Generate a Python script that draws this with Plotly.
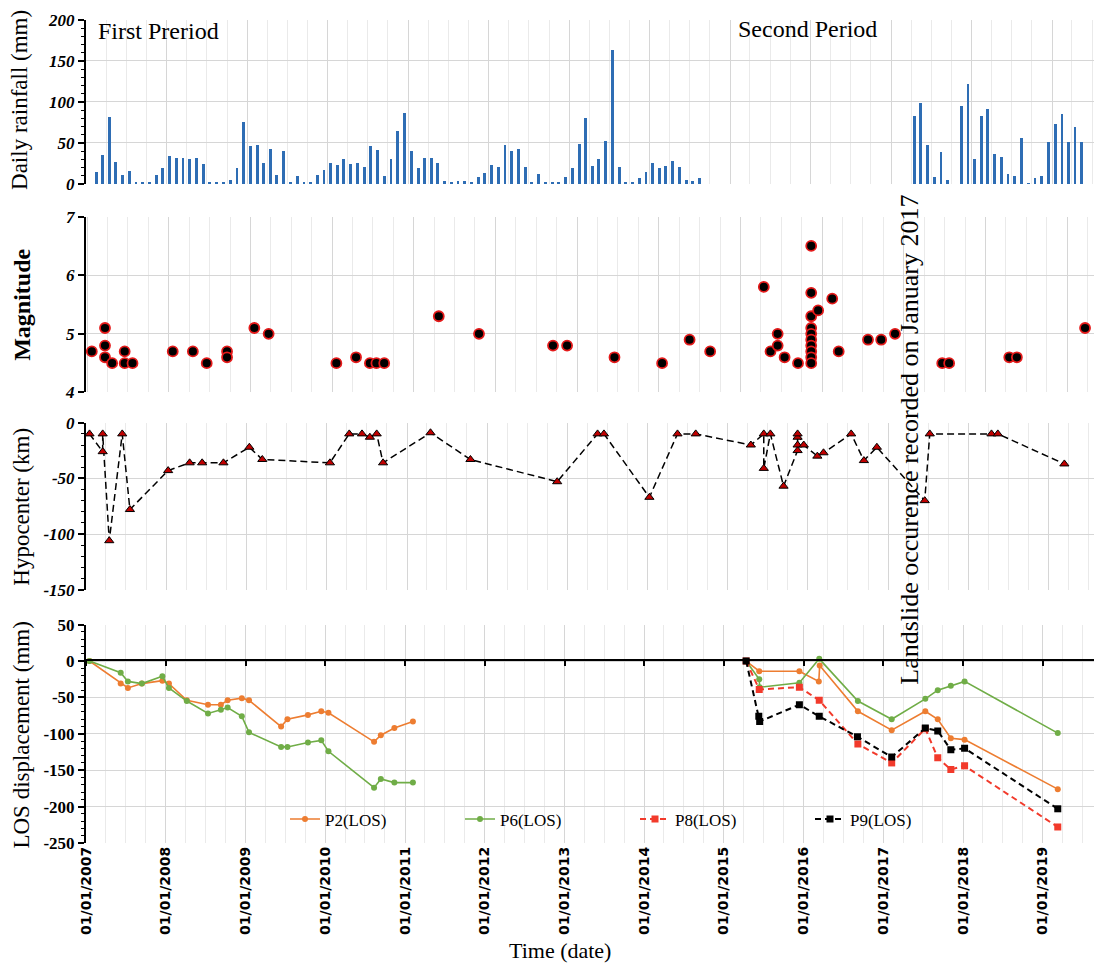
import plotly.graph_objects as go
import pandas as pd

# ---------------- data ----------------
# monthly rainfall (mm), first period starts Jan 2007, second period starts Mar 2017
rain_p1_start = "2007-01-15"
rain_p1 = [15, 35, 82, 27, 11, 16, 1.5, 1.5, 1.5, 11, 19, 34,
           32, 32, 30, 32, 24, 2.5, 1.5, 1.5, 5, 19, 76, 46,
           48, 26, 42, 11, 40, 1.5, 10, 1.5, 1.5, 11, 17, 25,
           23, 31, 24, 25, 21, 46, 41, 10, 31, 64, 87, 40,
           19, 32, 32, 26, 3, 1.5, 3, 3, 2, 8, 13, 23,
           21, 47, 40, 42, 21, 2, 12, 2, 2, 2, 8, 19,
           49, 80, 22, 31, 52, 164, 21, 1.5, 1.5, 7, 14, 26,
           19, 22, 28, 21, 5, 3, 7]
rain_p2_start = "2017-03-15"
rain_p2 = [83, 99, 48, 9, 39, 5, 0, 95, 122, 31, 83, 91, 37, 33, 12, 10,
           56, 1, 7, 10, 51, 73, 85, 51, 69, 51]

mag_dates = ["2007-01-21", "2007-03-21", "2007-03-21", "2007-03-21", "2007-04-22",
             "2007-06-17", "2007-06-17", "2007-07-22", "2008-01-18", "2008-04-17",
             "2008-06-18", "2008-09-17", "2008-09-17", "2009-01-17", "2009-03-22",
             "2010-01-19", "2010-04-17", "2010-06-18", "2010-07-17", "2010-08-21",
             "2011-04-22", "2011-10-19", "2012-09-14", "2012-11-16", "2013-06-16",
             "2014-01-15", "2014-05-18", "2014-08-18", "2015-04-15", "2015-05-15",
             "2015-06-16", "2015-06-16", "2015-07-17", "2015-09-15",
             "2015-11-13", "2015-11-13", "2015-11-13", "2015-11-13", "2015-11-13",
             "2015-11-13", "2015-11-13", "2015-11-13", "2015-11-13", "2015-11-13",
             "2015-12-14", "2016-02-15", "2016-03-15", "2016-07-24", "2016-09-21",
             "2016-11-22", "2017-06-21", "2017-07-22", "2018-04-17", "2018-05-21",
             "2019-03-22"]
mag_values = [4.7, 5.1, 4.8, 4.6, 4.5,
              4.7, 4.5, 4.5, 4.7, 4.7,
              4.5, 4.7, 4.6, 5.1, 5.0,
              4.5, 4.6, 4.5, 4.5, 4.5,
              5.3, 5.0, 4.8, 4.8, 4.6,
              4.5, 4.9, 4.7, 5.8, 4.7,
              4.8, 5.0, 4.6, 4.5,
              6.5, 5.7, 5.3, 5.1, 5.0,
              4.9, 4.8, 4.7, 4.6, 4.5,
              5.4, 5.6, 4.7, 4.9, 4.9,
              5.0, 4.5, 4.5, 4.6, 4.6,
              5.1]

hypo_dates = ["2007-01-16", "2007-03-17", "2007-03-17", "2007-04-16", "2007-06-14",
              "2007-07-19", "2008-01-09", "2008-04-16", "2008-06-12", "2008-09-17",
              "2009-01-13", "2009-03-13", "2010-01-15", "2010-04-13", "2010-06-10",
              "2010-07-16", "2010-08-16", "2010-09-14", "2011-04-18", "2011-10-17",
              "2012-11-15", "2013-05-18", "2013-06-16", "2014-01-09", "2014-05-17",
              "2014-08-08", "2015-04-16", "2015-06-14", "2015-06-14", "2015-07-14",
              "2015-09-12", "2015-11-15", "2015-11-15", "2015-11-15", "2015-11-15",
              "2015-12-13", "2016-02-13", "2016-03-12", "2016-07-16", "2016-09-12",
              "2016-11-10", "2017-06-16", "2017-07-09", "2018-04-16", "2018-05-15",
              "2019-03-14"]
hypo_depth = [-10, -26, -10, -106, -10,
              -78, -43, -36, -36, -36,
              -22, -33, -36, -10, -10,
              -13, -10, -36, -9, -33,
              -53, -10, -10, -67, -10,
              -10, -20, -10, -41, -10,
              -57, -25, -20, -13, -10,
              -20, -30, -27, -10, -34,
              -22, -70, -10, -10, -10,
              -37]

los1_dates = ["2007-01-16", "2007-06-08", "2007-07-11", "2007-09-13", "2007-12-16",
              "2008-01-15", "2008-04-06", "2008-07-12", "2008-09-09", "2008-10-10",
              "2008-12-14", "2009-01-16", "2009-06-12", "2009-07-11", "2009-10-13",
              "2009-12-13", "2010-01-15", "2010-08-12", "2010-09-12", "2010-11-13",
              "2011-02-06"]
p2_los1 = [0, -31, -37, -31, -27, -31, -54, -60, -60, -54, -51, -54, -90, -80, -74,
           -69, -71, -111, -102, -92, -83]
p6_los1 = [0, -16, -28, -31, -21, -37, -55, -72, -67, -64, -76, -98, -118, -118, -112,
           -109, -124, -174, -162, -167, -167]

p2_los2_dates = ["2015-04-13", "2015-06-12", "2015-12-13", "2016-03-11", "2016-03-15",
                 "2016-09-06", "2017-02-08", "2017-07-12", "2017-09-07", "2017-11-06",
                 "2018-01-08", "2019-03-11"]
p2_los2 = [0, -14, -14, -28, -6, -69, -95, -69, -80, -106, -108, -176]
p6_los2_dates = ["2015-04-13", "2015-06-12", "2015-06-14", "2015-12-13", "2016-03-13",
                 "2016-09-06", "2017-02-08", "2017-07-12", "2017-09-07", "2017-11-06",
                 "2018-01-08", "2019-03-11"]
p6_los2 = [0, -25, -36, -30, 3, -55, -80, -52, -40, -34, -28, -99]
p8_dates = ["2015-04-13", "2015-06-12", "2015-12-13", "2016-03-13", "2016-09-06",
            "2017-02-08", "2017-07-12", "2017-09-07", "2017-11-06", "2018-01-08",
            "2019-03-11"]
p8_los = [0, -39, -36, -54, -114, -140, -93, -133, -149, -144, -228]
p9_dates = ["2015-04-13", "2015-06-10", "2015-06-14", "2015-12-13", "2016-03-13",
            "2016-09-04", "2017-02-08", "2017-07-12", "2017-09-07", "2017-11-06",
            "2018-01-08", "2019-03-11"]
p9_los = [0, -76, -83, -60, -76, -104, -132, -92, -96, -122, -120, -203]

rain_ticks = [0, 50, 100, 150, 200]
mag_ticks = [4, 5, 6, 7]
hypo_ticks = [-150, -100, -50, 0]
los_ticks = [-250, -200, -150, -100, -50, 0, 50]

# ---------------- styling ----------------
SERIF = "Liberation Serif"
BAR_BLUE = "#2E6DB4"
GRID = "#D6D6D6"
GRID_MINOR = "#EAEAEA"
C_P2, C_P6, C_P8, C_P9 = "#ED7D31", "#70AD47", "#F23A2B", "#000000"

fig = go.Figure()

rain1_x = pd.date_range(rain_p1_start, periods=len(rain_p1), freq="MS") + pd.Timedelta(days=14)
rain2_x = pd.date_range(rain_p2_start, periods=len(rain_p2), freq="MS") + pd.Timedelta(days=14)
fig.add_trace(go.Bar(x=list(rain1_x) + list(rain2_x), y=rain_p1 + rain_p2,
                     marker=dict(color=BAR_BLUE, line=dict(width=0)),
                     width=13 * 86400000, showlegend=False, xaxis="x", yaxis="y"))

fig.add_trace(go.Scatter(x=mag_dates, y=mag_values, mode="markers",
                         marker=dict(color="black", size=10, line=dict(color="#E41A1A", width=1.8)),
                         showlegend=False, xaxis="x2", yaxis="y2"))

fig.add_trace(go.Scatter(x=hypo_dates, y=hypo_depth, mode="lines+markers",
                         line=dict(color="black", width=1.5, dash="7px,4px"),
                         marker=dict(symbol="triangle-up", color="#C00000", size=8,
                                     line=dict(color="black", width=1)),
                         showlegend=False, xaxis="x3", yaxis="y3"))

def los_trace(x, y, name, color, dash, symbol, show):
    return go.Scatter(x=x, y=y, mode="lines+markers", name=name, legendgroup=name,
                      showlegend=show,
                      line=dict(color=color, width=1.6 if dash == "solid" else 2, dash=dash),
                      marker=dict(color=color, size=6 if symbol == "circle" else 7, symbol=symbol),
                      xaxis="x4", yaxis="y4")

fig.add_trace(los_trace(los1_dates, p2_los1, "P2(LOS)", C_P2, "solid", "circle", True))
fig.add_trace(los_trace(p2_los2_dates, p2_los2, "P2(LOS)", C_P2, "solid", "circle", False))
fig.add_trace(los_trace(los1_dates, p6_los1, "P6(LOS)", C_P6, "solid", "circle", True))
fig.add_trace(los_trace(p6_los2_dates, p6_los2, "P6(LOS)", C_P6, "solid", "circle", False))
fig.add_trace(los_trace(p8_dates, p8_los, "P8(LOS)", C_P8, "6px,4px", "square", True))
fig.add_trace(los_trace(p9_dates, p9_los, "P9(LOS)", C_P9, "6px,4px", "square", True))
# empty trace to activate the zero-line axis overlay
fig.add_trace(go.Scatter(x=[], y=[], xaxis="x5", yaxis="y4", showlegend=False))

W, H = 1094, 969
ML, MR, MT, MB = 86, 0, 20, 125.5
ph = H - MT - MB
def py(pix):  # pixel row -> paper y
    return (H - MB - pix) / ph
def px(pix):
    return (pix - ML) / (W - ML - MR)

def xax(rng, **kw):
    d = dict(type="date", range=rng, domain=[0, 1], dtick="M12", tick0="2007-01-01",
             showgrid=True, gridcolor=GRID, gridwidth=1.3,
             minor=dict(dtick="M3", showgrid=True, gridcolor=GRID_MINOR, gridwidth=1),
             showline=False, ticks="", showticklabels=False, zeroline=False)
    d.update(kw)
    return d

def yax(dom, rng, vals, fmt, italic=True, minor=None, anchor="x"):
    d = dict(domain=dom, range=rng, anchor=anchor, tickmode="array", tickvals=vals,
             ticktext=[fmt.format(v) for v in vals],
             showgrid=True, gridcolor=GRID, gridwidth=1.2, zeroline=False,
             showline=True, linecolor="black", linewidth=2,
             ticks="outside", ticklen=6, tickwidth=1.5, tickcolor="black",
             tickfont=dict(family=SERIF, size=17, color="black", weight="bold",
                           style="italic" if italic else "normal"))
    if minor:
        d["minor"] = dict(tickmode="linear", tick0=0, dtick=minor, ticks="outside",
                          ticklen=3, tickcolor="black", tickwidth=1, showgrid=False)
    return d

BI = "<b><i>{}</i></b>"
layout = dict(
    width=W, height=H, margin=dict(l=ML, r=MR, t=MT, b=MB),
    paper_bgcolor="white", plot_bgcolor="white", bargap=0,
    xaxis=xax(["2006-12-31", "2019-07-10"], anchor="y"),
    xaxis2=xax(["2006-12-26", "2019-05-01"], anchor="y2"),
    xaxis3=xax(["2006-12-31", "2019-07-27"], anchor="y3"),
    xaxis4=xax(["2006-12-31", "2019-08-24"], anchor="y4", showticklabels=True,
               tickformat="%d/%m/%Y", tickangle=-90,
               tickfont=dict(family="DejaVu Sans", size=14, color="black", weight="bold")),
    xaxis5=dict(type="date", range=["2006-12-31", "2019-08-24"], overlaying="x4",
                anchor="free", position=py(660), dtick="M12", tick0="2007-01-01",
                showgrid=False, showline=True, linecolor="black", linewidth=2,
                ticks="outside", ticklen=5, tickwidth=1.5, tickcolor="black",
                showticklabels=False, zeroline=False),
    yaxis=yax([py(184), py(20)], [0, 200], rain_ticks, BI, minor=10, anchor="x"),
    yaxis2=yax([py(392.7), py(216.7)], [4, 7], mag_ticks, BI, anchor="x2"),
    yaxis3=yax([py(590), py(423)], [-150, 0], hypo_ticks, BI, minor=10, anchor="x3"),
    yaxis4=yax([0, py(625)], [-250, 50], los_ticks, "<b>{}</b>", italic=False, minor=10,
               anchor="x4"),
    legend=dict(orientation="h", x=px(285), y=py(820), xanchor="left", yanchor="middle",
                font=dict(family=SERIF, size=17, color="black"), bgcolor="rgba(0,0,0,0)",
                entrywidth=130, entrywidthmode="pixels", tracegroupgap=0),
    showlegend=True,
)
fig.update_layout(**layout)

def ann(text, x, y, size=20, angle=0, xanchor="center", weight="normal"):
    fig.add_annotation(text=text, x=x, y=y, xref="paper", yref="paper", showarrow=False,
                       textangle=angle, xanchor=xanchor, yanchor="middle",
                       font=dict(family=SERIF, size=size, color="black", weight=weight))

ann("Daily rainfall (mm)", px(20), py(100), size=23, angle=-90)
ann("Magnitude", px(22), py(305), size=24, angle=-90, weight="bold")
ann("Hypocenter (km)", px(22), py(507), size=23, angle=-90)
ann("LOS displacement (mm)", px(22), py(736), size=23, angle=-90)
ann("Time (date)", px(560), py(951), size=22)
ann("First Preriod", px(96), py(31), size=24, xanchor="left")
ann("Second Period", px(807), py(29), size=24)
ann("Landslide occurence recorded on January 2017", px(910), py(440), size=26, angle=-90)

fig.write_html("out.html")
